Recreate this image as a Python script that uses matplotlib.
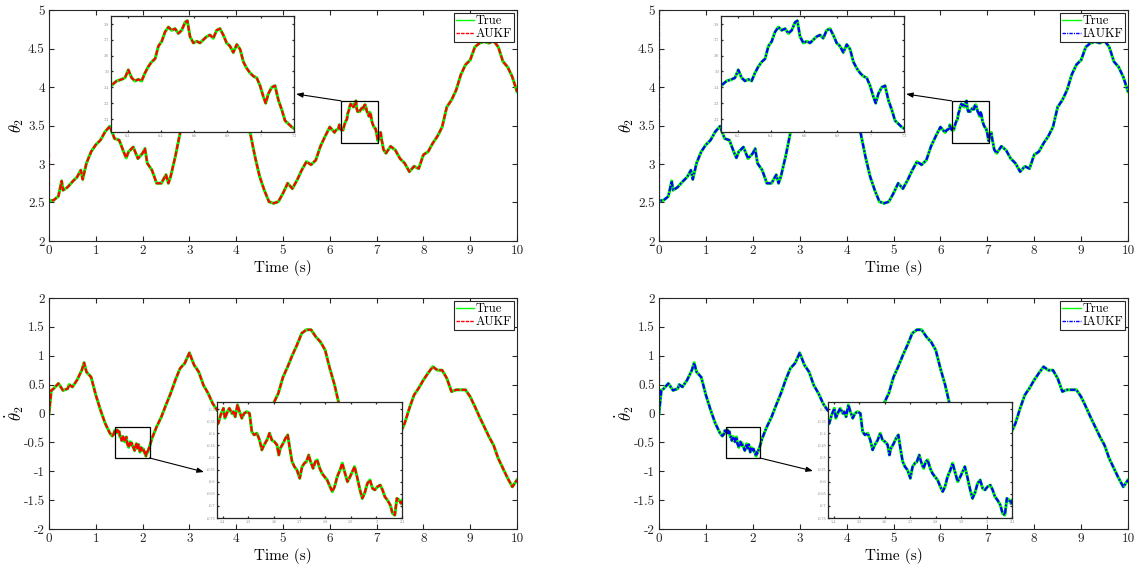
import numpy as np
import matplotlib as mpl
mpl.use('Agg')
import matplotlib.pyplot as plt
from matplotlib.patches import Rectangle
from matplotlib.ticker import FuncFormatter

plt.rcParams['font.family'] = 'serif'
plt.rcParams['font.serif'] = ['cmr10']
plt.rcParams['mathtext.fontset'] = 'cm'
plt.rcParams['axes.formatter.use_mathtext'] = True

###############################################################################
# theta_2 (angle) - coarse samples outside the zoom window
th_t_a = [0.0, 0.1, 0.2, 0.27, 0.3, 0.4, 0.5, 0.6, 0.68, 0.72, 0.8, 0.9, 1.0, 1.1, 1.2, 1.3,
          1.4, 1.5, 1.6, 1.65, 1.7, 1.8, 1.9, 2.0, 2.05, 2.1, 2.2, 2.3, 2.4, 2.5, 2.55,
          2.6, 2.7, 2.8, 2.9, 3.0, 3.1, 3.2, 3.3, 3.4, 3.5, 3.6, 3.7, 3.8, 3.9, 4.0,
          4.1, 4.2, 4.3, 4.4, 4.5, 4.6, 4.7, 4.8, 4.9, 5.0, 5.1, 5.2, 5.3, 5.4, 5.5,
          5.6, 5.7, 5.8, 5.9, 6.0]
th_a = [2.52, 2.53, 2.58, 2.78, 2.66, 2.70, 2.77, 2.83, 2.92, 2.80, 3.01, 3.16, 3.25, 3.31, 3.42, 3.49,
        3.33, 3.31, 3.15, 3.08, 3.16, 3.22, 3.07, 3.14, 3.20, 3.01, 2.92, 2.75, 2.75, 2.86, 2.75,
        2.84, 3.10, 3.40, 3.60, 3.75, 3.80, 3.78, 3.85, 3.90, 3.88, 3.95, 3.92, 3.85, 3.80, 3.78,
        3.70, 3.60, 3.40, 3.10, 2.84, 2.66, 2.51, 2.49, 2.51, 2.62, 2.75, 2.68, 2.79, 2.92, 3.03,
        2.99, 3.05, 3.23, 3.36, 3.48]

# theta_2 inside the zoom window (6.1 - 7.2 s)
th_t_zoom = [6.100, 6.134, 6.164, 6.184, 6.204, 6.224, 6.244, 6.264, 6.284, 6.304, 6.324,
             6.344, 6.365, 6.385, 6.405, 6.425, 6.445, 6.465, 6.485, 6.505, 6.525, 6.545,
             6.559, 6.575, 6.595, 6.615, 6.635, 6.655, 6.675, 6.695, 6.715, 6.735, 6.755,
             6.775, 6.795, 6.815, 6.835, 6.856, 6.876, 6.896, 6.916, 6.936, 6.956, 6.976,
             6.996, 7.016, 7.030, 7.046, 7.066, 7.086, 7.106, 7.126, 7.146, 7.166, 7.186, 7.200]
th_zoom = [3.41, 3.44, 3.45, 3.46, 3.51, 3.46, 3.44, 3.45, 3.44, 3.49, 3.53,
           3.56, 3.58, 3.66, 3.69, 3.75, 3.78, 3.76, 3.77, 3.74, 3.76, 3.81,
           3.82, 3.72, 3.68, 3.69, 3.68, 3.70, 3.72, 3.73, 3.71, 3.76, 3.77,
           3.73, 3.68, 3.66, 3.62, 3.67, 3.64, 3.56, 3.52, 3.49, 3.47, 3.46,
           3.41, 3.34, 3.30, 3.36, 3.40, 3.41, 3.32, 3.26, 3.19, 3.17, 3.15, 3.14]

th_t_b = [7.3, 7.4, 7.5, 7.6, 7.7, 7.8, 7.9, 8.0, 8.1, 8.2, 8.3, 8.4, 8.5, 8.6, 8.7,
          8.8, 8.9, 9.0, 9.1, 9.2, 9.3, 9.4, 9.5, 9.6, 9.7, 9.8, 9.9, 10.0]
th_b = [3.23, 3.18, 3.07, 3.01, 2.90, 2.97, 2.94, 3.12, 3.16, 3.27, 3.36, 3.48, 3.74, 3.83, 3.96,
        4.16, 4.29, 4.35, 4.52, 4.57, 4.59, 4.57, 4.60, 4.52, 4.33, 4.26, 4.13, 3.94]

# theta_2 dot (angular rate) - coarse samples
dth_t_a = [0.0, 0.05, 0.1, 0.2, 0.3, 0.4, 0.43, 0.5, 0.6, 0.7, 0.75, 0.8, 0.9, 1.0, 1.1,
           1.2, 1.3, 1.35]
dth_a = [0.0, 0.40, 0.43, 0.52, 0.40, 0.43, 0.50, 0.46, 0.58, 0.75, 0.88, 0.72, 0.63, 0.32, 0.06,
         -0.17, -0.34, -0.39]

# theta_2 dot inside the zoom window (1.38 - 2.1 s)
dth_t_zoom = [1.383, 1.392, 1.403, 1.409, 1.419, 1.426, 1.436, 1.442, 1.449, 1.458, 1.466,
              1.475, 1.484, 1.494, 1.505, 1.514, 1.523, 1.534, 1.544, 1.553, 1.562, 1.573,
              1.583, 1.592, 1.602, 1.612, 1.619, 1.625, 1.636, 1.645, 1.654, 1.662, 1.671,
              1.680, 1.690, 1.701, 1.710, 1.719, 1.727, 1.736, 1.743, 1.753, 1.762, 1.769,
              1.779, 1.788, 1.798, 1.808, 1.819, 1.828, 1.837, 1.847, 1.858, 1.867, 1.876,
              1.887, 1.897, 1.906, 1.915, 1.926, 1.936, 1.945, 1.954, 1.965, 1.975, 1.985,
              1.994, 2.004, 2.015, 2.024, 2.033, 2.043, 2.054, 2.063, 2.072, 2.080, 2.089, 2.096]
dth_zoom = [-0.359, -0.325, -0.297, -0.338, -0.311, -0.297, -0.318, -0.311, -0.332, -0.283, -0.311,
            -0.338, -0.318, -0.311, -0.318, -0.394, -0.407, -0.400, -0.428, -0.469, -0.448, -0.428,
            -0.400, -0.428, -0.435, -0.448, -0.490, -0.462, -0.442, -0.421, -0.407, -0.462, -0.517,
            -0.538, -0.552, -0.586, -0.538, -0.524, -0.517, -0.490, -0.517, -0.545, -0.517, -0.510,
            -0.545, -0.566, -0.580, -0.593, -0.621, -0.641, -0.621, -0.580, -0.552, -0.524, -0.559,
            -0.600, -0.580, -0.559, -0.538, -0.586, -0.634, -0.669, -0.648, -0.607, -0.593, -0.628,
            -0.634, -0.621, -0.614, -0.634, -0.662, -0.676, -0.696, -0.731, -0.738, -0.669, -0.676, -0.690]

dth_t_b = [2.15, 2.2, 2.3, 2.4, 2.5, 2.6, 2.7, 2.8, 2.9, 3.0, 3.1, 3.2, 3.3, 3.4, 3.5, 3.6,
           3.7, 3.8, 3.9, 4.0, 4.1, 4.2, 4.3, 4.4, 4.5, 4.6, 4.7, 4.8, 4.9, 5.0, 5.1, 5.2,
           5.3, 5.4, 5.5, 5.6, 5.7, 5.8, 5.9, 6.0, 6.1, 6.2, 6.3, 6.4, 6.5, 6.6, 6.7, 6.8,
           6.9, 7.0, 7.1, 7.2, 7.3, 7.4, 7.5, 7.6, 7.7, 7.8, 7.9, 8.0, 8.1, 8.2, 8.3, 8.4,
           8.5, 8.6, 8.7, 8.8, 8.9, 9.0, 9.1, 9.2, 9.3, 9.4, 9.5, 9.6, 9.7, 9.8, 9.9, 10.0]
dth_b = [-0.57, -0.43, -0.23, -0.06, 0.15, 0.35, 0.58, 0.78, 0.87, 1.05, 0.84, 0.72, 0.49, 0.35, 0.17, 0.05,
         0.0, -0.10, -0.15, -0.20, -0.20, -0.15, -0.10, -0.05, 0.0, 0.05, 0.10, 0.18, 0.35, 0.63, 0.81, 1.01,
         1.19, 1.39, 1.45, 1.45, 1.33, 1.24, 1.10, 0.78, 0.50, 0.15, 0.0, -0.15, -0.30, -0.40, -0.50, -0.55,
         -0.60, -0.62, -0.60, -0.55, -0.50, -0.42, -0.35, -0.17, 0.09, 0.32, 0.44, 0.58, 0.70, 0.81, 0.75, 0.75,
         0.61, 0.38, 0.41, 0.41, 0.41, 0.29, 0.12, -0.06, -0.23, -0.40, -0.55, -0.78, -0.95, -1.12, -1.27, -1.15]

# initial values of the filters (the estimate starts away from the true state)
aukf_th0, iaukf_th0 = 3.15, 5.0
aukf_dth0, iaukf_dth0 = 0.64, 1.01

t_th = np.concatenate([th_t_a, th_t_zoom, th_t_b])
th = np.concatenate([th_a, th_zoom, th_b])
t_dth = np.concatenate([dth_t_a, dth_t_zoom, dth_t_b])
dth = np.concatenate([dth_a, dth_zoom, dth_b])

###############################################################################
# Plotting
W, H = 1134, 566
fig = plt.figure(figsize=(W / 100, H / 100), dpi=100)

axcol = '#262626'
green = '#00ff00'
fmt = FuncFormatter(lambda v, p: '%g' % v)


def px(x0, y0, x1, y1):
    # pixel box -> figure fraction rect
    return [x0 / W, 1 - y1 / H, (x1 - x0) / W, (y1 - y0) / H]


def style(ax, fs, lw, small=False):
    ax.tick_params(direction='in', top=True, right=True, labelsize=fs, colors=axcol,
                   width=lw, length=1.5 if small else 3.5, pad=1 if small else 3)
    if small:
        ax.tick_params(labelcolor='#808080')
    for s in ax.spines.values():
        s.set_color(axcol)
        s.set_linewidth(lw)
    ax.xaxis.set_major_formatter(fmt)
    ax.yaxis.set_major_formatter(fmt)


panels = [
    # main box, inset box, arrow target (pixels)
    dict(main=(49, 10, 517, 241), ins=(111, 16, 294, 132), arrow=(296, 94),
         t=t_th, y=th, y0=aukf_th0, col='red', ls=(0, (2.5, 0.8)), name='AUKF', kind='th'),
    dict(main=(659, 10, 1128, 241), ins=(721, 16, 904, 132), arrow=(906, 94),
         t=t_th, y=th, y0=iaukf_th0, col='blue', ls=(0, (2.5, 0.8, 0.8, 0.8)), name='IAUKF', kind='th'),
    dict(main=(49, 298, 517, 529), ins=(217, 402, 402, 518), arrow=(204, 472),
         t=t_dth, y=dth, y0=aukf_dth0, col='red', ls=(0, (2.5, 0.8)), name='AUKF', kind='dth'),
    dict(main=(659, 298, 1128, 529), ins=(828, 402, 1012, 518), arrow=(813, 471),
         t=t_dth, y=dth, y0=iaukf_dth0, col='blue', ls=(0, (2.5, 0.8, 0.8, 0.8)), name='IAUKF', kind='dth'),
]

for p in panels:
    ax = fig.add_axes(px(*p['main']))
    ax.plot(p['t'], p['y'], color=green, lw=2.2, label='True')
    ax.plot(np.concatenate([[0.0], p['t']]), np.concatenate([[p['y0']], p['y']]),
            color=p['col'], ls=p['ls'], lw=1.6, label=p['name'])
    ax.set_xlim(0, 10)
    ax.set_xticks(np.arange(0, 11, 1))
    if p['kind'] == 'th':
        ax.set_ylim(2, 5)
        ax.set_yticks(np.arange(2, 5.01, 0.5))
        ax.set_ylabel(r'$\theta_2$', fontsize=12)
        box = (6.24, 3.27, 0.80, 0.55)
        corner = (6.24, 3.82)
    else:
        ax.set_ylim(-2, 2)
        ax.set_yticks(np.arange(-2, 2.01, 0.5))
        ax.set_ylabel(r'$\dot{\theta}_2$', fontsize=12)
        box = (1.42, -0.77, 0.73, 0.54)
        corner = (2.15, -0.77)
    ax.yaxis.set_label_coords(-0.05, 0.5)
    ax.set_xlabel('Time (s)', fontsize=11, labelpad=2)
    style(ax, 9.5, 0.8)
    leg = ax.legend(loc='upper right', fontsize=9, fancybox=False, framealpha=1,
                    edgecolor=axcol, borderpad=0.15, labelspacing=0.05, handlelength=1.5,
                    handletextpad=0.1, borderaxespad=0.25)
    leg.get_frame().set_linewidth(0.8)
    for ln in leg.get_lines():
        ln.set_linewidth(1.0)

    # zoom rectangle and arrow towards the inset
    ax.add_patch(Rectangle(box[:2], box[2], box[3], fill=False, ec='black', lw=0.9, zorder=5))
    ax.annotate('', xy=(p['arrow'][0] / W, 1 - p['arrow'][1] / H), xycoords='figure fraction',
                xytext=corner, textcoords='data',
                arrowprops=dict(arrowstyle='-|>,head_length=0.4,head_width=0.15', color='black',
                                lw=0.8, shrinkA=0, shrinkB=0))

    # inset
    ai = fig.add_axes(px(*p['ins']))
    ai.set_facecolor('white')
    ai.plot(p['t'], p['y'], color=green, lw=2.2)
    ai.plot(p['t'], p['y'], color=p['col'], ls=p['ls'], lw=1.6)
    if p['kind'] == 'th':
        ai.set_xlim(6.1, 7.2)
        ai.set_ylim(3.118, 3.85)
        ai.set_xticks(np.arange(6.2, 7.21, 0.2))
        ai.set_yticks(np.arange(3.2, 3.81, 0.1))
    else:
        ai.set_xlim(1.378, 2.1)
        ai.set_ylim(-0.75, -0.271)
        ai.set_xticks(np.arange(1.4, 2.11, 0.1))
        ai.set_yticks(np.arange(-0.75, -0.29, 0.05))
    style(ai, 3, 0.9, small=True)

fig.savefig('out.png', dpi=100)
